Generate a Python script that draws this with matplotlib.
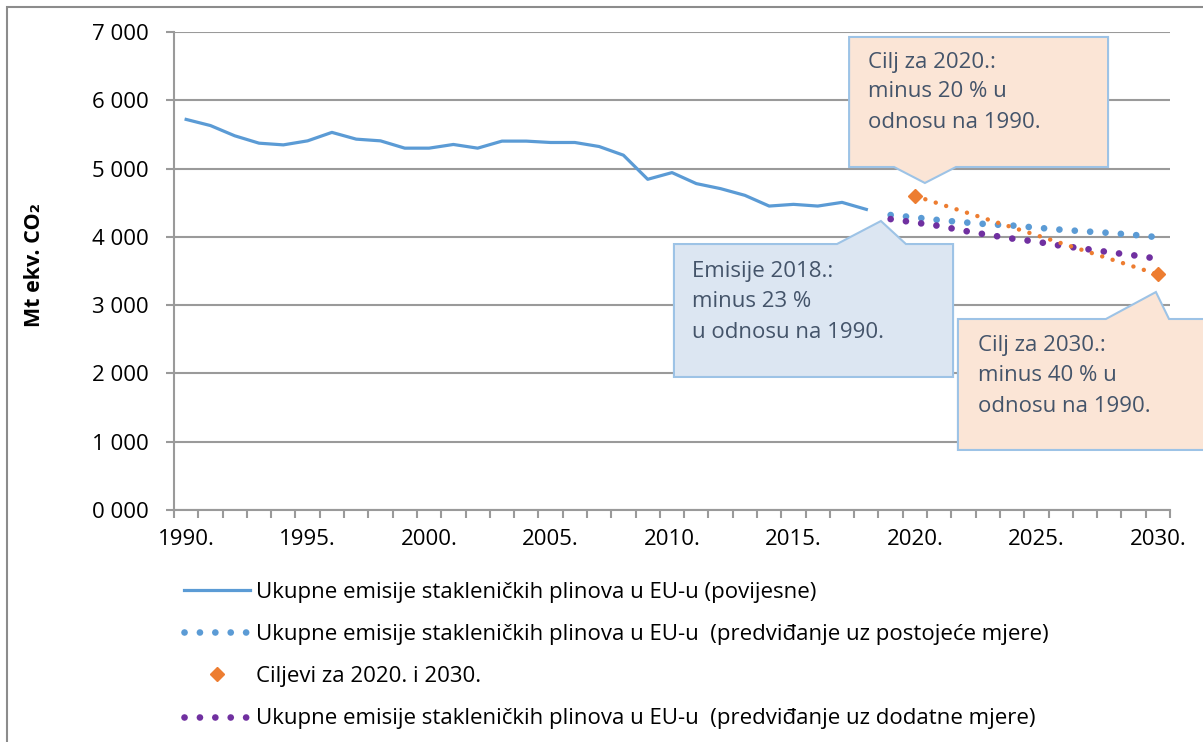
import matplotlib
matplotlib.use("Agg")
import matplotlib.pyplot as plt
from matplotlib.patches import Polygon, Rectangle
import numpy as np

plt.rcParams['font.family'] = ['Open Sans', 'DejaVu Sans']

# ---------------- data ----------------
years_hist = list(range(1990, 2019))
hist = [5720, 5630, 5480, 5372, 5347, 5406, 5530, 5431, 5406, 5299, 5299, 5353,
        5299, 5402, 5402, 5382, 5382, 5323, 5196, 4843, 4941, 4780, 4706, 4608,
        4451, 4476, 4451, 4505, 4402]
years_proj = list(range(2019, 2031))
existing = [4320, 4285, 4245, 4213, 4185, 4166, 4135, 4105, 4080, 4058, 4029, 3995]
additional = [4260, 4210, 4160, 4090, 4030, 3975, 3930, 3870, 3825, 3775, 3730, 3680]
target_years = [2020, 2030]
targets = [4600, 3450]

ytick_vals = [0, 1000, 2000, 3000, 4000, 5000, 6000, 7000]
ytick_labels = ["0 000", "1 000", "2 000", "3 000", "4 000", "5 000", "6 000", "7 000"]
xtick_vals = [1990, 1995, 2000, 2005, 2010, 2015, 2020, 2025, 2030]
xtick_labels = ["1990.", "1995.", "2000.", "2005.", "2010.", "2015.", "2020.", "2025.", "2030."]

labels = ["Ukupne emisije stakleničkih plinova u EU-u (povijesne)",
          "Ukupne emisije stakleničkih plinova u EU-u  (predviđanje uz postojeće mjere)",
          "Ciljevi za 2020. i 2030.",
          "Ukupne emisije stakleničkih plinova u EU-u  (predviđanje uz dodatne mjere)"]

BLUE = "#5B9BD5"
ORANGE = "#ED7D31"
PURPLE = "#7030A0"
GRID = "#9A9A9A"
TXT = "#44546A"

W, H = 1203, 742
fig = plt.figure(figsize=(W / 100, H / 100), dpi=100)
ax = fig.add_axes([174 / W, 1 - 510 / H, (1170 - 174) / W, (510 - 32) / H])

# outer frame of the chart area
fig.patches.append(Rectangle((7 / W, -0.1), 1.2, 1 - 7 / H + 0.1, transform=fig.transFigure,
                             fill=False, edgecolor="#8C8C8C", linewidth=1.5, zorder=0))

# series
l_hist, = ax.plot(years_hist, hist, color=BLUE, lw=2.3, solid_joinstyle='round', zorder=3)
l_exist, = ax.plot(years_proj, existing, color=BLUE, lw=4.8, linestyle=(0, (0.01, 2.3)),
                   dash_capstyle='round', zorder=3)
l_add, = ax.plot(years_proj, additional, color=PURPLE, lw=4.8, linestyle=(0, (0.01, 2.3)),
                 dash_capstyle='round', zorder=3)
ax.plot(target_years, targets, color=ORANGE, lw=3.2, linestyle=(0, (0.01, 2.45)),
        dash_capstyle='round', zorder=3)
l_tgt, = ax.plot(target_years, targets, color=ORANGE, linestyle='none', marker='D',
                 markersize=7.5, zorder=4)

# axes styling
ax.set_xlim(1989.5, 2030.5)
ax.set_ylim(0, 7000)
ax.set_yticks(ytick_vals)
ax.set_yticklabels(ytick_labels, fontsize=16, color="black")
ax.set_xticks(xtick_vals)
ax.set_xticklabels(xtick_labels, fontsize=16, color="black")
ax.set_xticks(np.arange(1989.5, 2031, 1.0), minor=True)
ax.tick_params(axis='x', which='major', length=0, pad=14)
ax.tick_params(axis='x', which='minor', length=6, width=1.5, color=GRID, direction='out')
ax.tick_params(axis='y', which='major', length=6, width=1.5, color=GRID, direction='out', pad=12)
ax.grid(axis='y', color=GRID, lw=1.5)
ax.set_axisbelow(True)
for s in ['top', 'right']:
    ax.spines[s].set_visible(False)
for s in ['left', 'bottom']:
    ax.spines[s].set_color(GRID)
    ax.spines[s].set_linewidth(1.5)

ax.set_ylabel("Mt ekv. CO₂", fontsize=15.5, fontweight='bold')
ax.yaxis.set_label_coords((45 - 174) / 996, (510 - 265) / 478)

# callouts (box corners, pointer side, base and tip in data coordinates)
callouts = [
    dict(box=(2010.08, 2021.57, 1948, 3895), side='top', base=(2016.79, 2019.63),
         tip=(2018.60, 4232), face="#DCE6F2",
         lines=["Emisije 2018.:", "minus 23 %", "u odnosu na 1990."],
         tx=2010.82, ty=[3407, 2968, 2515]),
    dict(box=(2017.29, 2027.95, 5023, 6927), side='bottom', base=(2019.14, 2021.69),
         tip=(2020.41, 4789), face="#FBE5D6",
         lines=["Cilj za 2020.:", "minus 20 % u", "odnosu na 1990."],
         tx=2018.05, ty=[6478, 6049, 5595]),
    dict(box=(2021.77, 2032.6, 879, 2797), side='top', base=(2027.86, 2030.46),
         tip=(2029.92, 3192), face="#FBE5D6",
         lines=["Cilj za 2030.:", "minus 40 % u", "odnosu na 1990."],
         tx=2022.59, ty=[2328, 1889, 1435]),
]
for c in callouts:
    x0, x1, yb, yt = c['box']
    pl, pr = c['base']
    if c['side'] == 'top':
        verts = [(x0, yt), (pl, yt), c['tip'], (pr, yt), (x1, yt), (x1, yb), (x0, yb)]
    else:
        verts = [(x0, yt), (x1, yt), (x1, yb), (pr, yb), c['tip'], (pl, yb), (x0, yb)]
    ax.add_patch(Polygon(verts, closed=True, facecolor=c['face'], edgecolor="#9DC3E6",
                         lw=1.5, zorder=5, clip_on=False))
    for s, y in zip(c['lines'], c['ty']):
        ax.text(c['tx'], y, s, fontsize=16, color=TXT, ha='left', va='baseline',
                zorder=6, clip_on=False)

# legend
leg = fig.legend([l_hist, l_exist, l_tgt, l_add], labels, loc='upper left',
                 bbox_to_anchor=(184 / W, 1 - 582 / H), frameon=False, fontsize=16,
                 handlelength=2.97, handletextpad=0.28, labelspacing=0.95,
                 borderaxespad=0, borderpad=0)

fig.savefig("out.png", dpi=100)
